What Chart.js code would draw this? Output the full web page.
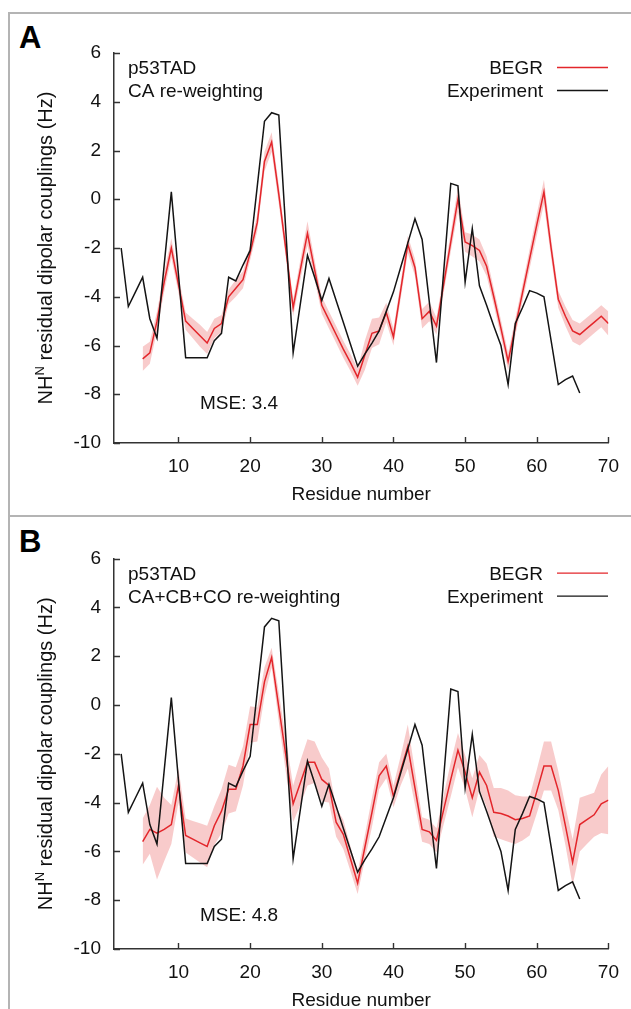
<!DOCTYPE html>
<html><head><meta charset="utf-8">
<script src="https://cdn.jsdelivr.net/npm/chart.js@4/dist/chart.umd.min.js"></script>
<style>
html,body{margin:0;padding:0;background:#fff;width:631px;height:1009px;overflow:hidden;font-family:"Liberation Sans",Arial,sans-serif}
.panel{position:absolute;border:2px solid #b4b4b4;box-sizing:border-box}
#pA{left:8px;top:12px;width:640px;height:505px}
#pB{left:8px;top:515px;width:640px;height:520px}
.letter{position:absolute;font-weight:bold;font-size:31px;line-height:1;color:#000}
.wrap{position:absolute;left:0;width:631px}
</style></head>
<body>
<div class="panel" id="pA"></div><div class="panel" id="pB"></div>
<div class="letter" style="left:19px;top:22px">A</div>
<div class="letter" style="left:19px;top:526px">B</div>
<div class="wrap" style="top:0;height:515px"><canvas id="cA"></canvas></div>
<div class="wrap" style="top:515px;height:494px"><canvas id="cB"></canvas></div>
<script>
// ---------------- data ----------------
const expResidues = [2,3,4,5,6,7,8,9,10,11,12,13,14,15,16,17,18,19,20,21,22,23,24,25,26,27,28,29,30,31,32,33,34,35,36,37,38,39,40,41,42,43,44,45,46,47,48,49,50,51,52,53,54,55,56,57,58,59,60,61,62,63,64,65,66];
const experiment = [-2.0,-4.4,-3.8,-3.2,-4.9,-5.7,-2.7,0.3,-3.1,-6.5,-6.5,-6.5,-6.5,-5.8,-5.5,-3.2,-3.35,-2.7,-2.1,0.55,3.2,3.55,3.45,-1.4,-6.3,-4.3,-2.3,-3.2,-4.15,-3.25,-4.15,-5.05,-5.95,-6.85,-6.35,-5.9,-5.4,-4.6,-3.8,-2.8,-1.8,-0.8,-1.65,-4.2,-6.7,-3.0,0.65,0.55,-3.4,-1.2,-3.55,-4.35,-5.2,-6.0,-7.6,-5.1,-4.45,-3.75,-3.85,-4.0,-5.8,-7.6,-7.4,-7.25,-7.95];

const begrResidues = [5,6,7,8,9,10,11,12,13,14,15,16,17,18,19,20,21,22,23,24,25,26,27,28,29,30,31,32,33,34,35,36,37,38,39,40,41,42,43,44,45,46,47,48,49,50,51,52,53,54,55,56,57,58,59,60,61,62,63,64,65,66,67,68,69,70];
const begrCA = [-6.55,-6.3,-5.0,-3.4,-2.0,-3.5,-5.0,-5.3,-5.6,-5.9,-5.3,-5.1,-4.0,-3.65,-3.3,-2.2,-0.95,1.55,2.35,0.2,-2.1,-4.45,-2.9,-1.4,-2.9,-4.35,-4.95,-5.55,-6.15,-6.7,-7.3,-6.4,-5.5,-5.4,-4.65,-5.65,-3.75,-1.85,-2.8,-4.9,-4.6,-5.2,-3.5,-1.75,0.0,-1.75,-1.9,-2.1,-2.75,-4.0,-5.3,-6.65,-5.25,-3.85,-2.45,-1.05,0.3,-2.0,-4.1,-4.8,-5.4,-5.55,-5.3,-5.05,-4.8,-5.1];
const spreadCA = [0.5,0.45,0.4,0.4,0.4,0.35,0.35,0.4,0.45,0.45,0.4,0.35,0.3,0.35,0.35,0.3,0.35,0.4,0.4,0.4,0.35,0.35,0.4,0.5,0.4,0.35,0.35,0.35,0.35,0.35,0.35,0.6,0.6,0.55,0.4,0.35,0.35,0.35,0.35,0.4,0.4,0.35,0.35,0.4,0.5,0.4,0.45,0.45,0.4,0.35,0.35,0.35,0.35,0.35,0.4,0.45,0.5,0.4,0.35,0.4,0.45,0.45,0.45,0.45,0.45,0.5];
const begrCACBCO = [-5.6,-5.1,-5.25,-5.1,-4.9,-3.3,-5.35,-5.5,-5.65,-5.8,-4.95,-4.35,-3.45,-3.45,-2.5,-0.8,-0.8,0.95,1.95,-0.1,-2.1,-4.05,-3.2,-2.35,-2.35,-3.05,-3.3,-4.8,-5.3,-6.3,-7.3,-5.85,-4.4,-2.9,-2.5,-3.75,-2.7,-1.7,-3.4,-5.1,-5.2,-5.55,-4.3,-3.05,-1.85,-2.75,-3.8,-2.75,-3.3,-4.4,-4.45,-4.55,-4.7,-4.65,-4.55,-3.55,-2.5,-2.5,-3.5,-4.95,-6.45,-4.9,-4.7,-4.5,-4.05,-3.9];
const spreadCACBCO = [0.95,1.0,1.9,1.3,0.8,0.7,0.7,0.75,0.8,0.85,0.8,0.9,1.0,0.9,0.8,0.75,0.7,0.6,0.4,0.6,0.7,0.75,0.9,0.95,0.85,0.9,0.7,0.6,0.6,0.5,0.45,0.5,0.6,0.55,0.5,0.45,0.6,0.9,0.7,0.5,0.5,0.5,0.6,0.7,0.7,0.7,0.8,0.7,0.9,1.0,1.05,1.05,1.0,0.9,0.8,0.9,1.0,1.0,0.8,0.8,0.95,1.1,1.0,0.9,1.2,1.4];

const yTicks = [-10,-8,-6,-4,-2,0,2,4,6];
const xTicks = [10,20,30,40,50,60,70];
const legendLabels = ['BEGR','Experiment'];

// ---------------- rendering ----------------
const FONT = '"Liberation Sans", Arial, sans-serif';
const RED = '#e3262b', BAND = 'rgba(240,140,140,0.45)', BLACK = '#141414', AXIS = '#333';

const deco = {
  id: 'deco',
  afterDraw(chart, args, o) {
    const ctx = chart.ctx, ca = chart.chartArea, xs = chart.scales.x, ys = chart.scales.y;
    ctx.save();
    ctx.strokeStyle = AXIS; ctx.lineWidth = 1.4;
    ctx.beginPath();
    ys.ticks.forEach(t => { const y = Math.round(ys.getPixelForValue(t.value)) + 0.5; ctx.moveTo(ca.left, y); ctx.lineTo(ca.left + 6, y); });
    xs.ticks.forEach(t => { const x = Math.round(xs.getPixelForValue(t.value)) + 0.5; ctx.moveTo(x, ca.bottom); ctx.lineTo(x, ca.bottom - 6); });
    ctx.stroke();

    ctx.fillStyle = '#111';
    ctx.font = '19px ' + FONT;
    ctx.textBaseline = 'alphabetic';
    ctx.textAlign = 'left';
    ctx.fillText(o.name, 128, ca.top + 21);
    ctx.fillText(o.method, 128, ca.top + 44);
    ctx.fillText(o.mse, 200, ca.bottom - o.mseOff);
    // legend
    ctx.textAlign = 'right';
    const ds = [chart.data.datasets[2], chart.data.datasets[3]];
    [0, 1].forEach(i => {
      const by = ca.top + 21 + i * 23;
      ctx.fillText(ds[i].label, 543, by);
      ctx.strokeStyle = ds[i].borderColor; ctx.lineWidth = 1.4;
      ctx.beginPath(); ctx.moveTo(557, by - 6.5); ctx.lineTo(608, by - 6.5); ctx.stroke();
    });
    // x title
    ctx.textAlign = 'center';
    ctx.fillText('Residue number', (ca.left + ca.right) / 2, ca.bottom + 57);
    // y title with superscript
    ctx.translate(52, (ca.top + ca.bottom) / 2);
    ctx.rotate(-Math.PI / 2);
    ctx.textAlign = 'left';
    const big = '20px ' + FONT, small = '13px ' + FONT;
    ctx.font = big; const w1 = ctx.measureText('NH').width;
    ctx.font = small; const w2 = ctx.measureText('N').width;
    ctx.font = big; const w3 = ctx.measureText(' residual dipolar couplings (Hz)').width;
    let x0 = -(w1 + w2 + w3) / 2;
    ctx.fillText('NH', x0, 0);
    ctx.font = small; ctx.fillText('N', x0 + w1, -8);
    ctx.font = big; ctx.fillText(' residual dipolar couplings (Hz)', x0 + w1 + w2, 0);
    ctx.restore();
  }
};

function build(id, values, spread, opts) {
  const low = begrResidues.map((r, i) => ({x: r, y: values[i] - spread[i]}));
  const high = begrResidues.map((r, i) => ({x: r, y: values[i] + spread[i]}));
  const mean = begrResidues.map((r, i) => ({x: r, y: values[i]}));
  const exp = expResidues.map((r, i) => ({x: r, y: experiment[i]}));
  new Chart(document.getElementById(id), {
    type: 'line',
    data: { datasets: [
      { label: 'low', data: low, borderWidth: 0, pointRadius: 0, fill: false, order: 3 },
      { label: 'high', data: high, borderWidth: 0, pointRadius: 0, fill: '-1', backgroundColor: BAND, order: 3 },
      { label: legendLabels[0], data: mean, borderColor: RED, borderWidth: 1.5, pointRadius: 0, fill: false, order: 2 },
      { label: legendLabels[1], data: exp, borderColor: BLACK, borderWidth: 1.5, pointRadius: 0, fill: false, order: 1 }
    ]},
    options: {
      responsive: true, maintainAspectRatio: false, animation: false,
      layout: { padding: { left: 54, right: 21, top: opts.top, bottom: opts.bottom } },
      elements: { line: { tension: 0 } },
      plugins: { legend: { display: false }, tooltip: { enabled: false },
        deco: { name: 'p53TAD', method: opts.method, mse: opts.mse, mseOff: opts.mseOff } },
      scales: {
        x: { type: 'linear', min: 1, max: 70,
          afterFit: s => { s.height = 40; },
          afterBuildTicks: s => { s.ticks = xTicks.map(v => ({value: v})); },
          grid: { display: true, drawOnChartArea: false, drawTicks: false },
          border: { display: true, color: AXIS, width: 1.5 },
          ticks: { padding: 12, color: '#111', font: { size: 19, family: FONT }, maxRotation: 0, autoSkip: false } },
        y: { type: 'linear', min: -10, max: 6,
          afterFit: s => { s.width = 60; },
          afterBuildTicks: s => { s.ticks = yTicks.map(v => ({value: v})); },
          grid: { display: true, drawOnChartArea: false, drawTicks: false },
          border: { display: true, color: AXIS, width: 1.5 },
          ticks: { padding: 13, color: '#111', font: { size: 19, family: FONT } } }
      }
    },
    plugins: [deco]
  });
}

build('cA', begrCA, spreadCA, { top: 53, bottom: 32, method: 'CA re-weighting', mse: 'MSE: 3.4', mseOff: 34 });
build('cB', begrCACBCO, spreadCACBCO, { top: 43.6, bottom: 20, method: 'CA+CB+CO re-weighting', mse: 'MSE: 4.8', mseOff: 28 });
</script>
</body></html>
